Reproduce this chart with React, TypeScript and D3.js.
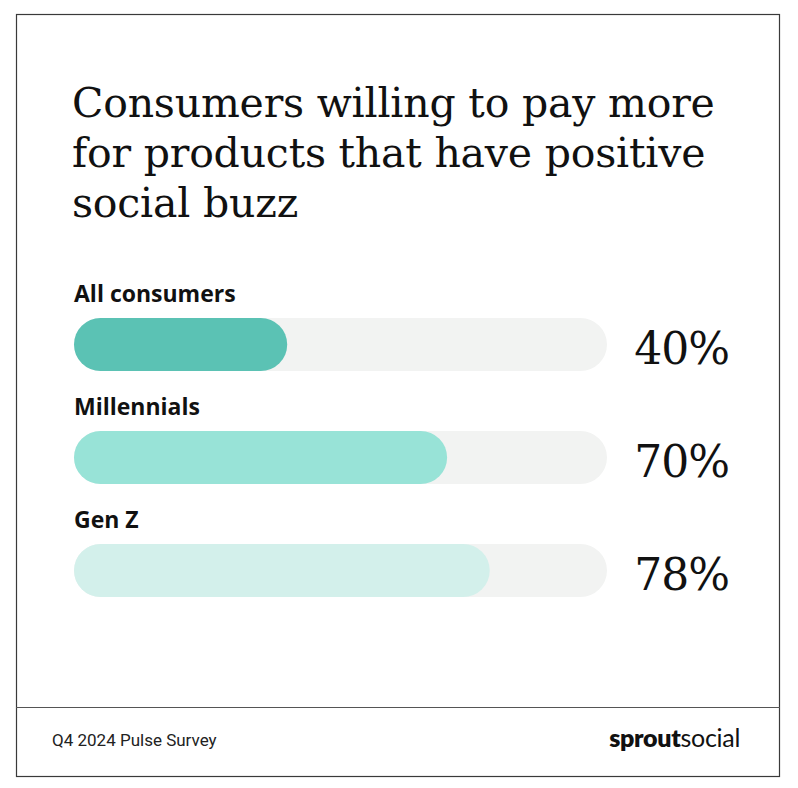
import React from "react";
import * as d3 from "d3";

const titleLines = [
  "Consumers willing to pay more",
  "for products that have positive",
  "social buzz",
];
const categories = ["All consumers", "Millennials", "Gen Z"];
const values = [40, 70, 78];
const barColors = ["#5BC2B4", "#98E3D7", "#D3F0EB"];
const sourceText = "Q4 2024 Pulse Survey";

const W = 798;
const H = 788;

export default function App() {
  // horizontal scale for the bar tracks (0-100%)
  const x = d3.scaleLinear().domain([0, 100]).range([74, 607]);
  // one band per category row
  const y = d3.scaleBand().domain(categories).range([280, 280 + 113 * 3]).padding(0);
  const barH = 53;
  const barOffset = 38;

  return (
    <svg
      width={W}
      height={H}
      style={{ position: "absolute", left: 0, top: 0, background: "#fff" }}
    >
      {/* frame */}
      <rect x={16.5} y={14.5} width={763} height={762} fill="#fff" stroke="#3a3a3a" strokeWidth={1.2} />
      <line x1={16} x2={780} y1={707.5} y2={707.5} stroke="#555" strokeWidth={1} />

      {/* title */}
      <text fontFamily="'DejaVu Serif', serif" fontSize={41} fill="#111" letterSpacing={-0.2}>
        {titleLines.map((t, i) => (
          <tspan key={i} x={72} y={117 + i * 50}>
            {t}
          </tspan>
        ))}
      </text>

      {categories.map((c, i) => {
        const top = (y(c) as number) + barOffset;
        return (
          <g key={c}>
            <text
              x={74}
              y={(y(c) as number) + 22}
              fontFamily="'Open Sans', sans-serif"
              fontWeight={700}
              fontSize={23}
              fill="#111"
            >
              {c}
            </text>
            <rect
              x={x(0)}
              y={top}
              width={x(100) - x(0)}
              height={barH}
              rx={barH / 2}
              fill="#F2F3F2"
            />
            <rect
              x={x(0)}
              y={top}
              width={x(values[i]) - x(0)}
              height={barH}
              rx={barH / 2}
              fill={barColors[i]}
            />
            <text
              x={729}
              y={top + 46}
              textAnchor="end"
              fontFamily="'DejaVu Serif', serif"
              fontSize={44}
              fill="#111"
              letterSpacing={-1}
            >
              {values[i] + "%"}
            </text>
          </g>
        );
      })}

      {/* footer */}
      <text x={52} y={746} fontFamily="Roboto, sans-serif" fontSize={17} fill="#222">
        {sourceText}
      </text>
      <text x={740} y={747} textAnchor="end" fontFamily="Lato, sans-serif" fontSize={25} fill="#111" letterSpacing={-0.3}>
        <tspan fontWeight={800}>sprout</tspan>
        <tspan fontWeight={400}>social</tspan>
      </text>
    </svg>
  );
}
